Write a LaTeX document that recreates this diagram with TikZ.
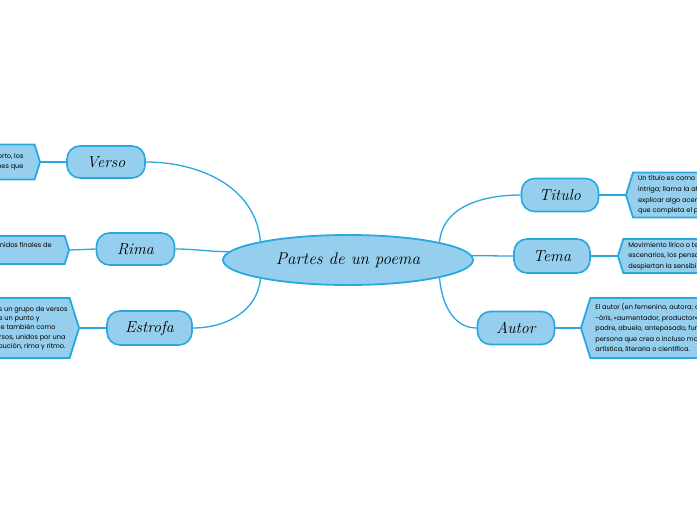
\documentclass[tikz,border=0pt]{standalone}
\usepackage{fontspec}
\newfontfamily\boxfont{Poppins}
\usetikzlibrary{shapes.geometric,shapes.symbols}
\definecolor{fillc}{RGB}{150,207,237}
\definecolor{bordc}{RGB}{40,168,224}
\begin{document}
\begin{tikzpicture}[x=1pt,y=1pt,
  topic/.style={draw=bordc, fill=fillc, line width=1.6pt, rounded corners=13pt,
    minimum width=78pt, minimum height=32pt, inner sep=0pt,
    font=\fontsize{16}{19}\selectfont\itshape},
  txtbox/.style={shape=signal, draw=bordc, fill=fillc, line width=1.8pt,
    signal pointer angle=145, inner ysep=0pt,
    font=\boxfont\fontsize{6.6}{10.6}\selectfont},
  conn/.style={draw=bordc, line width=1.3pt}]
\useasboundingbox (0,0) rectangle (697,-520);
\clip (0,0) rectangle (697,-520);
\fill[white] (0,0) rectangle (697,-520);

% central
\node[ellipse, draw=bordc, fill=fillc, line width=1.8pt, minimum width=250pt,
  minimum height=50pt, inner sep=0pt, font=\fontsize{17}{20}\selectfont\itshape]
  (c) at (348,-260) {Partes de un poema};

% topics
\node[topic] (verso) at (106,-162) {Verso};
\node[topic] (rima) at (135.5,-249) {Rima};
\node[topic, minimum width=85pt, minimum height=34pt] (estrofa) at (149.5,-328) {Estrofa};
\node[topic, minimum width=77pt, minimum height=33pt] (titulo) at (560,-195) {Titulo};
\node[topic, minimum width=76pt, minimum height=34pt] (tema) at (552,-256) {Tema};
\node[topic, minimum width=77pt, minimum height=33pt] (autor) at (516,-328) {Autor};

% text boxes, left
\node[txtbox, signal to=east, anchor=east, align=right, inner xsep=11pt,
  minimum height=35pt] (tverso) at (41,-162)
  {Cada una de las líneas que componen el poema. En un texto corto, los\\
   versos se distinguen porque ocupan una línea y tienen terminaciones que};
\node[txtbox, signal to=east, anchor=east, align=right, inner xsep=13pt,
  minimum height=28pt] (trima) at (70,-250)
  {Es la repetición de los sonidos finales de\\ \mbox{}};
\node[txtbox, signal to=east, anchor=east, align=right, inner xsep=2pt,
  minimum height=60pt, font=\boxfont\fontsize{6.6}{9.3}\selectfont] (testrofa) at (80,-328)
  {En poesía, una estrofa es un grupo de versos\\
   sujetos a un orden métrico y separados de un punto y\makebox[28pt]{}\\
   aparte de los demás. Se conoce también como\makebox[12pt]{}\\
   el conjunto de versos, unidos por una\makebox[2pt]{}\\
   misma medida, distribución, rima y ritmo.\makebox[2pt]{}};

% text boxes, right
\node[txtbox, signal to=west, anchor=west, align=left, inner xsep=5pt,
  minimum height=45pt] (ttitulo) at (625,-195)
  {Un título es como una promesa y una\\
   intriga; llama la atención del lector, intenta\\
   explicar algo acerca del poema y es una pieza\\
   que completa el poema.};
\node[txtbox, signal to=west, anchor=west, align=left, inner xsep=5pt,
  minimum height=34pt] (ttema) at (617,-256)
  {Movimiento lírico o tema: son las ideas,\\
   escenarios, los pensamientos o sentimientos que\\
   despiertan la sensibilidad del poeta.};
\node[txtbox, signal to=west, anchor=west, align=left, inner xsep=5pt,
  minimum height=60pt] (tautor) at (580,-328)
  {El autor (en femenino, autora; del latín auctor,\\
   -óris, «aumentador, productor») es el creador,\\
   padre, abuelo, antepasado, fundador; es la\\
   persona que crea o incluso modifica una obra\\
   artística, literaria o científica.};

% connectors
\draw[conn] (c.168) to[out=95,in=0] (verso.east);
\draw[conn] (c.176) to[out=180,in=0] (rima.east);
\draw[conn] (c.192) to[out=-95,in=0] (estrofa.east);
\draw[conn] (c.11) to[out=85,in=180] (titulo.west);
\draw[conn] (c.2) to[out=0,in=180] (tema.west);
\draw[conn] (c.-11) to[out=-85,in=180] (autor.west);

\draw[conn] (tverso.east) -- (verso.west);
\draw[conn] (trima.east) -- (rima.west);
\draw[conn] (testrofa.east) -- (estrofa.west);
\draw[conn] (titulo.east) -- (ttitulo.west);
\draw[conn] (tema.east) -- (ttema.west);
\draw[conn] (autor.east) -- (tautor.west);
\end{tikzpicture}
\end{document}
